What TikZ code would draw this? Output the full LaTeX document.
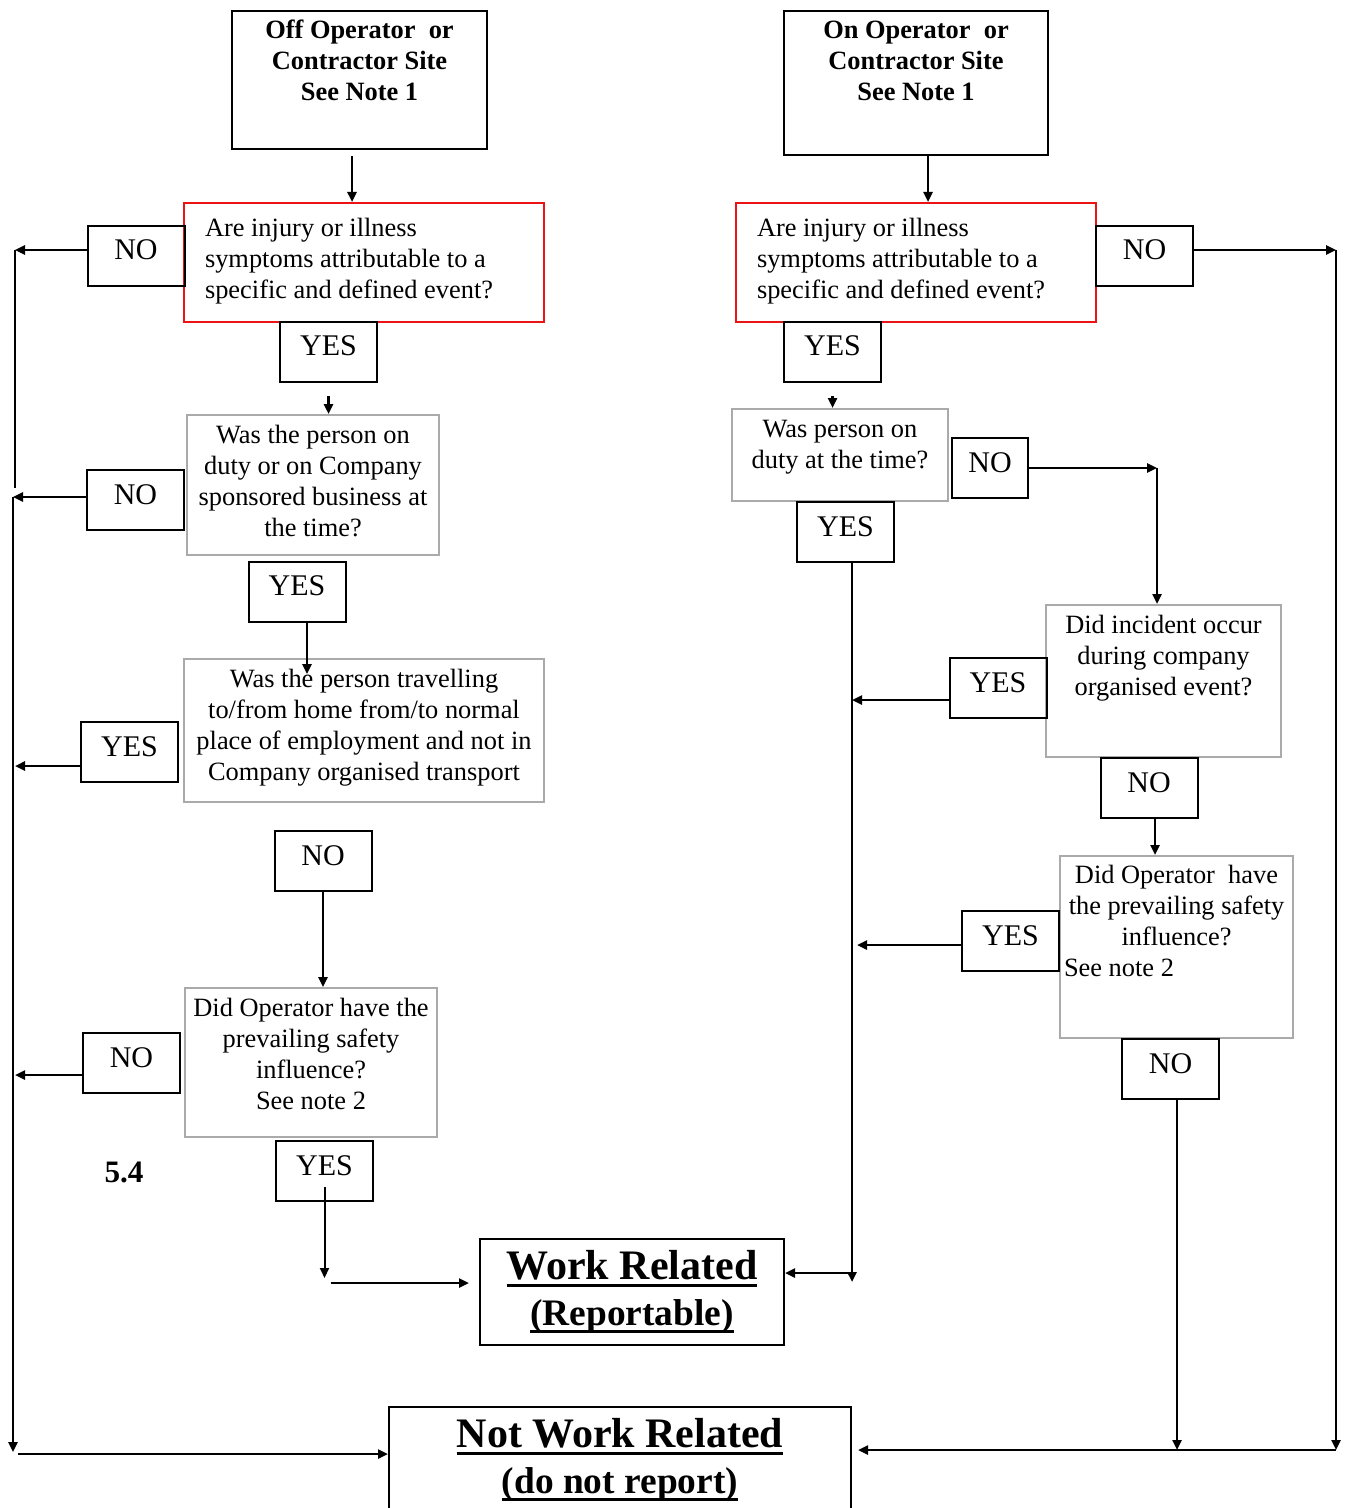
\documentclass[tikz,border=0pt]{standalone}
\usepackage{fontspec}
\setmainfont{Liberation Serif}
\usetikzlibrary{arrows.meta}

\definecolor{qred}{RGB}{235,20,20}
\definecolor{qgray}{RGB}{170,170,170}

% box text: width, height, top gap, alignment, lines
\newcommand{\qbody}[5]{\parbox[c][#2][t]{#1}{#4\vspace*{#3}\strut#5}}
% heavy underline
\newcommand{\thickul}[1]{\setbox0\hbox{#1}\rlap{\rule[-3.5pt]{\wd0}{1.5pt}}\box0}

\tikzset{
  >={Triangle[length=5pt,width=4.5pt]},
  flow/.style={line width=1.2pt},
  site/.style={draw, line width=1pt, inner sep=0pt, font=\fontsize{13.2}{15.5}\selectfont\bfseries},
  redq/.style={draw=qred, line width=1pt, inner sep=0pt, font=\fontsize{13.2}{15.5}\selectfont},
  grayq/.style={draw=qgray, line width=1pt, inner sep=0pt, font=\fontsize{13.2}{15.5}\selectfont},
  answer/.style={draw, line width=1pt, inner sep=0pt, minimum width=48.5pt, text height=17pt, text depth=13pt, font=\fontsize{15}{18}\selectfont},
  outcome/.style={draw, line width=1pt, inner sep=0pt, align=center, minimum height=53pt, font=\fontsize{21}{23}\selectfont\bfseries},
}

\begin{document}
\begin{tikzpicture}[x=0.5pt,y=-0.5pt]

\useasboundingbox (0,0) rectangle (1347,1508);
\clip (0,0) rectangle (1347,1508);

% sites:
\node[site] (offsite) at (359.5,80) {\qbody{127.5pt}{69pt}{3.15pt}{\centering}{Off Operator\ \ or\\Contractor Site\\See Note 1}};
\node[site] (onsite) at (916,83) {\qbody{132pt}{72pt}{3.15pt}{\centering}{On Operator\ \ or\\Contractor Site\\See Note 1}};

% 1st question:
\node[redq] (qa) at (364,262.5) {\qbody{180pt}{59.5pt}{5.9pt}{\raggedright\leftskip=10.5pt }{Are injury or illness\\symptoms attributable to a\\specific and defined event?}};
\node[redq] (qb) at (916,262.5) {\qbody{180pt}{59.5pt}{5.9pt}{\raggedright\leftskip=10.5pt }{Are injury or illness\\symptoms attributable to a\\specific and defined event?}};

\node[answer] (n1) at (136,256) {NO};
\node[answer] (n2) at (1144.5,256) {NO};
\node[answer] (y1) at (328.5,352) {YES};
\node[answer] (y2) at (832.5,352) {YES};

% left column:
\node[grayq] (q2) at (313,485) {\qbody{126pt}{70pt}{3.15pt}{\centering}{Was the person on\\duty or on Company\\sponsored business at\\the time?}};
\node[answer] (n3) at (135.5,500) {NO};
\node[answer] (y3) at (297,591.5) {YES};

\node[grayq] (q3) at (364,730.5) {\qbody{180pt}{71.5pt}{3.15pt}{\centering}{Was the person travelling\\to/from home from/to normal\\place of employment and not in\\Company organised transport}};
\node[answer] (y4) at (129.5,752) {YES};
\node[answer] (n4) at (323,861) {NO};

\node[grayq] (q4) at (311,1062.5) {\qbody{126pt}{74.5pt}{3.15pt}{\centering}{Did Operator have the\\prevailing safety\\influence?\\See note 2}};
\node[answer] (n5) at (131.5,1063) {NO};
\node[answer] (y5) at (324.5,1171) {YES};

\node[font=\fontsize{15.6}{18}\selectfont\bfseries] (sec) at (124,1172) {5.4};

% right column:
\node[grayq] (q2r) at (840,455) {\qbody{108pt}{46pt}{3.15pt}{\centering}{Was person on\\duty at the time?}};
\node[answer, minimum width=38pt] (n6) at (990,468) {NO};
\node[answer] (y6) at (845.5,532) {YES};

\node[grayq] (q3r) at (1163.5,681) {\qbody{117.5pt}{76pt}{3.15pt}{\centering}{Did incident occur\\during company\\organised event?}};
\node[answer] (y7) at (998,688) {YES};
\node[answer] (n7) at (1149,788) {NO};

\node[grayq] (q4r) at (1176.5,947) {\qbody{116.5pt}{91pt}{2.65pt}{\centering}{Did Operator\ \ have\\the prevailing safety\\influence?\par\raggedright\hspace*{2pt}See note 2}};
\node[answer] (y8) at (1010.5,941) {YES};
\node[answer] (n8) at (1170.5,1069) {NO};

% outcomes:
\node[outcome, minimum width=152pt] (work) at (632,1292) {\thickul{Work Related}\\\fontsize{18.7}{23}\selectfont\thickul{(Reportable)}};
\node[outcome, minimum width=231pt] (notwork) at (620,1460) {\thickul{Not Work Related}\\\fontsize{18.7}{23}\selectfont\thickul{(do not report)}};

\coordinate (lt1) at (15,250);
\coordinate (lt2) at (15,488);
\coordinate (lb1) at (13,497);
\coordinate (lb2) at (13,1452);
\coordinate (c5) at (324.5,1278);
\coordinate (c6) at (1157,468);
\coordinate (mt) at (852,1282);
\coordinate (rt1) at (1336,250);
\coordinate (rt2) at (1336,1450);

% down from the sites
\draw[flow,->] ([xshift=-3.75pt,yshift=-3pt]offsite.south) -- ([xshift=-3.75pt]offsite.south |- qa.north);
\draw[flow,->] ([xshift=6pt]onsite.south) -- ([xshift=6pt]onsite.south |- qb.north);

% left trunk
\draw[flow,->] ([yshift=3pt]n1.west) -- (lt1);
\draw[flow] (lt1) -- (lt2);
\draw[flow,->] ([yshift=1.5pt]n3.west) -- (lb1);
\draw[flow,->] (lb1) -- (lb2);
\draw[flow,->] ([yshift=-7pt]y4.west) -- ([yshift=-7pt]y4.west -| lt1);
\draw[flow,->] ([yshift=-6pt]n5.west) -- ([yshift=-6pt]n5.west -| lt1);
\draw[flow,->] ([xshift=2.5pt,yshift=-1pt]lb2) -- ([yshift=3pt]notwork.west);

\draw[flow,->] ([yshift=-6.5pt]y1.south) -- (y1.south |- q2.north);
\draw[flow,->] ([xshift=5pt]y3.south) -- ([xshift=5pt,yshift=-8pt]y3.south |- q3.north);
\draw[flow,->] (n4.south) -- (n4.south |- q4.north);
\draw[line width=1pt,->] ([yshift=-8pt]y5.center) -- (y5.center |- c5);
\draw[flow,->] ([xshift=3pt,yshift=-2.5pt]c5) -- ([xshift=-5pt,yshift=4.5pt]work.west);

% right trunk
\draw[flow,->] ([yshift=3pt]n2.east) -- (rt1);
\draw[flow,->] (rt1) -- (rt2);
\draw[flow,->] (rt2) -- ([xshift=3pt,yshift=5pt]notwork.east);

\draw[flow,->] ([yshift=-6.5pt]y2.south) -- (y2.south |- q2r.north);
\draw[flow,->] (n6.east) -- (c6);
\draw[flow,->] (c6) -- (c6 |- q3r.north);
\draw[flow,->] ([xshift=3.25pt]y6.south) -- (mt);
\draw[flow,->] ([yshift=9.5pt]work.east -| mt) -- ([yshift=9.5pt]work.east);
\draw[flow,->] ([yshift=-6pt]y7.west) -- ([yshift=-6pt]y7.west -| mt);
\draw[flow,->] ([xshift=3pt]n7.south) -- ([xshift=3pt]n7.south |- q4r.north);
\draw[flow,->] ([yshift=-2pt]y8.west) -- ([xshift=2.5pt,yshift=-2pt]y8.west -| mt);
\draw[flow,->] ([xshift=3.25pt]n8.south) -- ([xshift=3.25pt]n8.south |- rt2);

\end{tikzpicture}
\end{document}
